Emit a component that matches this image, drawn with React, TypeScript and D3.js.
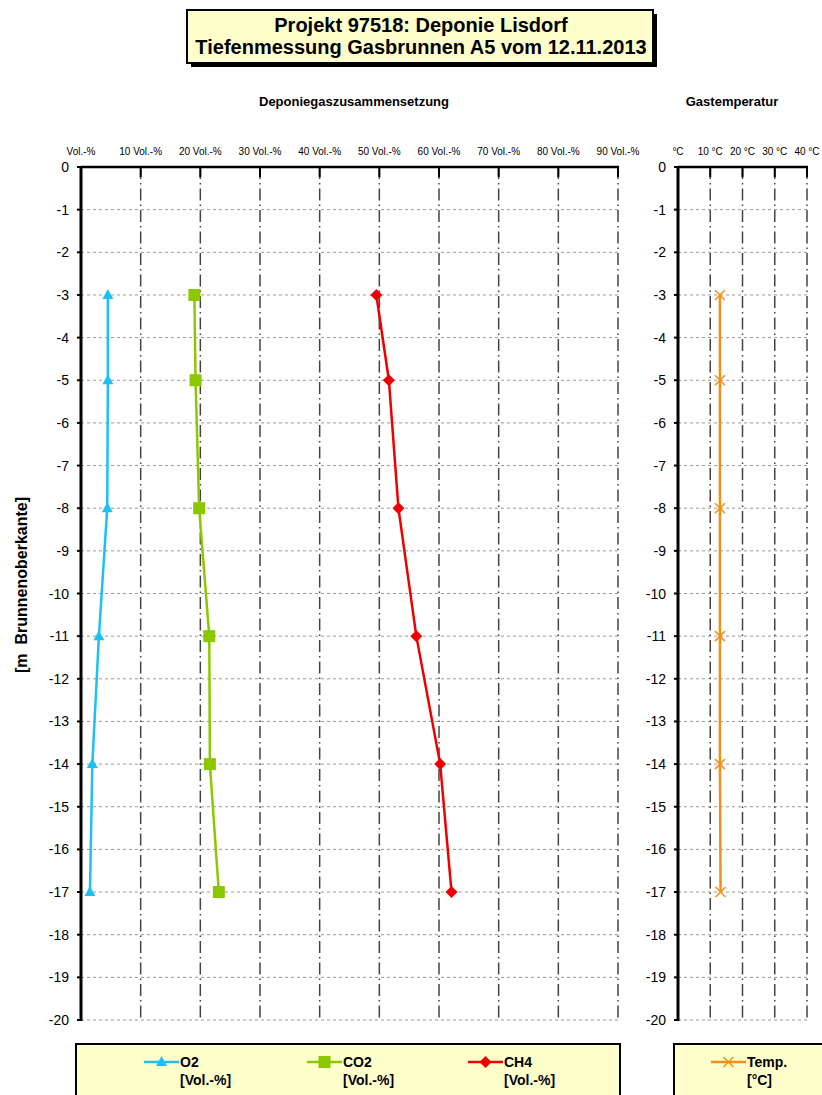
import * as d3 from "d3";
import { useEffect, useRef } from "react";

// Tiefen der Messpunkte (m unter Brunnenoberkante)
const depths = [-3, -5, -8, -11, -14, -17];

// Gaszusammensetzung in Vol.-%
const o2 = [4.5, 4.5, 4.4, 3.0, 1.9, 1.5];
const co2 = [19.0, 19.2, 19.8, 21.5, 21.6, 23.1];
const ch4 = [49.5, 51.6, 53.2, 56.2, 60.2, 62.1];

// Gastemperatur in °C
const temp = [13.0, 13.0, 13.0, 13.0, 13.0, 13.2];

const gasTicks = [0, 10, 20, 30, 40, 50, 60, 70, 80, 90];
const tempTicks = [0, 10, 20, 30, 40];
const depthTicks = d3.range(0, -21, -1);

const FONT = "'Liberation Sans', Arial, Helvetica, sans-serif";

const App = () => {
    const svgRef = useRef<SVGSVGElement>(null);

    useEffect(() => {
        const svg = d3.select(svgRef.current);
        svg.selectAll("*").remove();

        const top = 167;
        const bottom = 1020;

        const scaleY = d3.scaleLinear().domain([0, -20]).range([top, bottom]);
        const scaleGas = d3.scaleLinear().domain([0, 90]).range([81, 618]);
        const scaleTemp = d3.scaleLinear().domain([0, 40]).range([678, 807]);

        // Titelkasten mit Schatten
        svg.append("rect").attr("x", 191).attr("y", 14).attr("width", 466).attr("height", 53).style("fill", "#000");
        svg.append("rect").attr("x", 187).attr("y", 10).attr("width", 466).attr("height", 53)
            .style("fill", "#ffffcc").style("stroke", "#000").style("stroke-width", 2);
        ["Projekt 97518: Deponie Lisdorf", "Tiefenmessung Gasbrunnen A5 vom 12.11.2013"].forEach((t, i) => {
            svg.append("text").attr("x", 421).attr("y", 32 + i * 22).attr("text-anchor", "middle")
                .style("font-family", FONT).style("font-weight", "bold").style("font-size", "20px").text(t);
        });

        // Panel-Titel
        svg.append("text").attr("x", 354).attr("y", 106).attr("text-anchor", "middle")
            .style("font-family", FONT).style("font-weight", "bold").style("font-size", "13px")
            .text("Deponiegaszusammensetzung");
        svg.append("text").attr("x", 732).attr("y", 106).attr("text-anchor", "middle")
            .style("font-family", FONT).style("font-weight", "bold").style("font-size", "13px")
            .text("Gastemperatur");

        // Y-Achsen-Titel
        svg.append("text").attr("transform", "translate(27, 585) rotate(-90)").attr("text-anchor", "middle")
            .style("font-family", FONT).style("font-weight", "bold").style("font-size", "16px")
            .attr("xml:space", "preserve")
            .text("[m  Brunnenoberkante]");

        const drawPanel = (scaleX, ticks, label, labelX) => {
            const [x0, x1] = scaleX.range();
            const g = svg.append("g");

            // horizontale Gitterlinien
            g.selectAll("line.hgrid").data(depthTicks.slice(1)).enter().append("line")
                .attr("x1", x0).attr("x2", x1)
                .attr("y1", d => scaleY(d)).attr("y2", d => scaleY(d))
                .style("stroke", "#999").style("stroke-width", 1).style("stroke-dasharray", "3,3");

            // vertikale Gitterlinien (Strich-Punkt)
            g.selectAll("line.vgrid").data(ticks.slice(1)).enter().append("line")
                .attr("x1", d => scaleX(d)).attr("x2", d => scaleX(d))
                .attr("y1", top).attr("y2", bottom)
                .style("stroke", "#444").style("stroke-width", 1.5).style("stroke-dasharray", "12,4,1.5,4");

            // obere Achse
            g.append("line").attr("x1", x0).attr("x2", x1 + 1).attr("y1", top).attr("y2", top)
                .style("stroke", "#000").style("stroke-width", 2.5);
            g.selectAll("line.xtick").data(ticks).enter().append("line")
                .attr("x1", d => scaleX(d)).attr("x2", d => scaleX(d))
                .attr("y1", top).attr("y2", top + 10)
                .style("stroke", "#000").style("stroke-width", 2);
            g.selectAll("text.xlab").data(ticks).enter().append("text")
                .attr("x", d => scaleX(d)).attr("y", 155).attr("text-anchor", "middle")
                .style("font-family", FONT).style("font-size", "10px")
                .text(d => (d === 0 ? label : `${d} ${label}`));

            // linke Achse
            g.append("line").attr("x1", x0).attr("x2", x0).attr("y1", top - 1).attr("y2", bottom + 1)
                .style("stroke", "#000").style("stroke-width", 3);
            g.selectAll("line.ytick").data(depthTicks).enter().append("line")
                .attr("x1", x0 - 4).attr("x2", x0)
                .attr("y1", d => scaleY(d)).attr("y2", d => scaleY(d))
                .style("stroke", "#000").style("stroke-width", 2);
            g.selectAll("text.ylab").data(depthTicks).enter().append("text")
                .attr("x", labelX).attr("y", d => scaleY(d) + 5).attr("text-anchor", "end")
                .style("font-family", FONT).style("font-size", "14px")
                .text(d => String(d));
        };

        drawPanel(scaleGas, gasTicks, "Vol.-%", 69);
        drawPanel(scaleTemp, tempTicks, "°C", 666);

        const drawSeries = (values, scaleX, color, marker) => {
            const pts = values.map((v, i) => [scaleX(v), scaleY(depths[i])]);
            svg.append("path").attr("d", d3.line()(pts))
                .style("fill", "none").style("stroke", color).style("stroke-width", 2.5);
            const g = svg.append("g");
            pts.forEach(([x, y]) => drawMarker(g, x, y, color, marker));
        };

        drawSeries(o2, scaleGas, "#1ec0f0", "triangle");
        drawSeries(co2, scaleGas, "#8cc800", "square");
        drawSeries(ch4, scaleGas, "#ee0000", "diamond");
        drawSeries(temp, scaleTemp, "#f0901a", "cross");

        // Legenden
        const legendBox = (x, w) => {
            svg.append("rect").attr("x", x).attr("y", 1044).attr("width", w).attr("height", 70)
                .style("fill", "#ffffcc").style("stroke", "#000").style("stroke-width", 2);
        };
        legendBox(76, 544);
        legendBox(674, 170);

        const legendItem = (x, name, unit, color, marker) => {
            svg.append("line").attr("x1", x).attr("x2", x + 35).attr("y1", 1062).attr("y2", 1062)
                .style("stroke", color).style("stroke-width", 2.5);
            drawMarker(svg, x + 17.5, 1062, color, marker);
            svg.append("text").attr("x", x + 36).attr("y", 1067)
                .style("font-family", FONT).style("font-weight", "bold").style("font-size", "14px").text(name);
            svg.append("text").attr("x", x + 36).attr("y", 1085)
                .style("font-family", FONT).style("font-weight", "bold").style("font-size", "14px").text(unit);
        };
        legendItem(144, "O2", "[Vol.-%]", "#1ec0f0", "triangle");
        legendItem(307, "CO2", "[Vol.-%]", "#8cc800", "square");
        legendItem(468, "CH4", "[Vol.-%]", "#ee0000", "diamond");
        legendItem(711, "Temp.", "[°C]", "#f0901a", "cross");
    }, []);

    return (
        <svg ref={svgRef} width={822} height={1095}
            style={{ position: "absolute", left: 0, top: 0, background: "#fff" }} />
    );
};

const drawMarker = (g, x, y, color, marker) => {
    if (marker === "triangle") {
        g.append("path").attr("d", `M${x},${y - 6}L${x + 5.5},${y + 4}L${x - 5.5},${y + 4}Z`).style("fill", color);
    } else if (marker === "square") {
        g.append("rect").attr("x", x - 6).attr("y", y - 6).attr("width", 12).attr("height", 12).style("fill", color);
    } else if (marker === "diamond") {
        g.append("path").attr("d", `M${x},${y - 6}L${x + 6},${y}L${x},${y + 6}L${x - 6},${y}Z`).style("fill", color);
    } else {
        g.append("path").attr("d", `M${x - 5},${y - 5}L${x + 5},${y + 5}M${x + 5},${y - 5}L${x - 5},${y + 5}`)
            .style("stroke", color).style("stroke-width", 1.5).style("fill", "none");
    }
};

export default App;
